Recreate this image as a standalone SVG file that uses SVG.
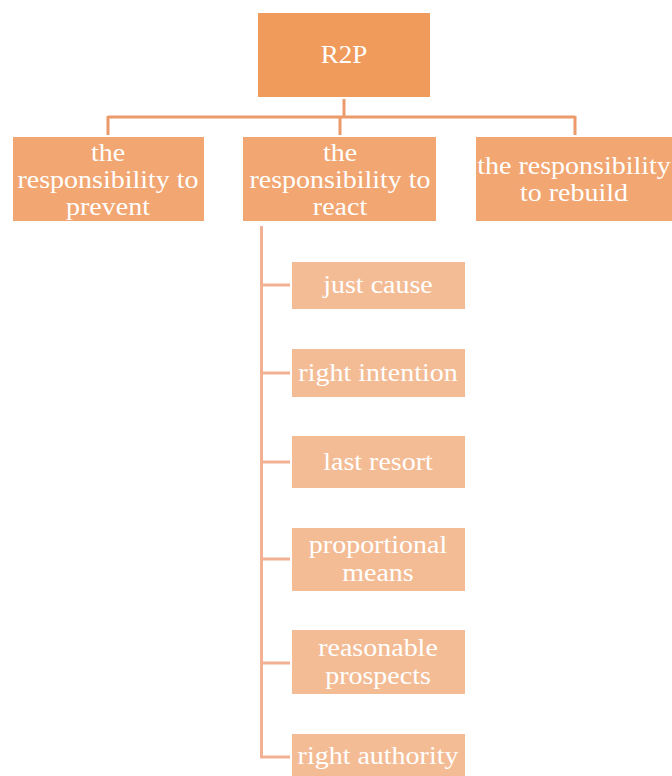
<svg xmlns="http://www.w3.org/2000/svg" width="672" height="776" viewBox="0 0 672 776">
<style>
text{font-family:"Liberation Serif","Times New Roman",serif;fill:#fff;text-anchor:middle;font-size:26px}
.top{fill:#F09A5B}
.l2{fill:#F2A671}
.l3{fill:#F4BC95}
.c1{stroke:#EC9A6A;stroke-width:3;fill:none}
.c2{stroke:#F2B192;stroke-width:3;fill:none}
</style>
<rect width="672" height="776" fill="#fff"/>
<g id="connectors">
<path class="c1" d="M344 99V117M108 117H575M108 116V135M340 116V135M575 116V135"/>
<path class="c2" d="M261.5 226V757.5M260 285H290M260 373H290M260 462H290M260 559H290M260 663H290M260 757H290"/>
</g>
<g id="r2p"><rect class="top" x="258" y="13" width="172" height="84"/><g transform="translate(344 0) scale(1.04 1)"><text x="0" y="63">R2P</text></g></g>
<g id="prevent"><rect class="l2" x="13" y="137" width="191" height="84"/><g transform="translate(108 0) scale(1.077 1)"><text x="0" y="161">the</text><text x="0" y="188">responsibility to</text><text x="0" y="215">prevent</text></g></g>
<g id="react"><rect class="l2" x="243" y="137" width="193" height="84"/><g transform="translate(340 0) scale(1.077 1)"><text x="0" y="161">the</text><text x="0" y="188">responsibility to</text><text x="0" y="215">react</text></g></g>
<g id="rebuild"><rect class="l2" x="476" y="137" width="196" height="84"/><g transform="translate(574 0) scale(1.077 1)"><text x="0" y="174">the responsibility</text><text x="0" y="201">to rebuild</text></g></g>
<g id="just"><rect class="l3" x="292" y="262" width="173" height="47"/><g transform="translate(378 0) scale(1.077 1)"><text x="0" y="293">just cause</text></g></g>
<g id="intention"><rect class="l3" x="292" y="349" width="173" height="48"/><g transform="translate(378 0) scale(1.077 1)"><text x="0" y="381">right intention</text></g></g>
<g id="resort"><rect class="l3" x="292" y="436" width="173" height="52"/><g transform="translate(378 0) scale(1.077 1)"><text x="0" y="470">last resort</text></g></g>
<g id="means"><rect class="l3" x="292" y="528" width="173" height="63"/><g transform="translate(378 0) scale(1.077 1)"><text x="0" y="553">proportional</text><text x="0" y="581">means</text></g></g>
<g id="prospects"><rect class="l3" x="292" y="630" width="173" height="64"/><g transform="translate(378 0) scale(1.077 1)"><text x="0" y="656">reasonable</text><text x="0" y="684">prospects</text></g></g>
<g id="authority"><rect class="l3" x="292" y="734" width="173" height="42"/><g transform="translate(378 0) scale(1.077 1)"><text x="0" y="764">right authority</text></g></g>
</svg>
